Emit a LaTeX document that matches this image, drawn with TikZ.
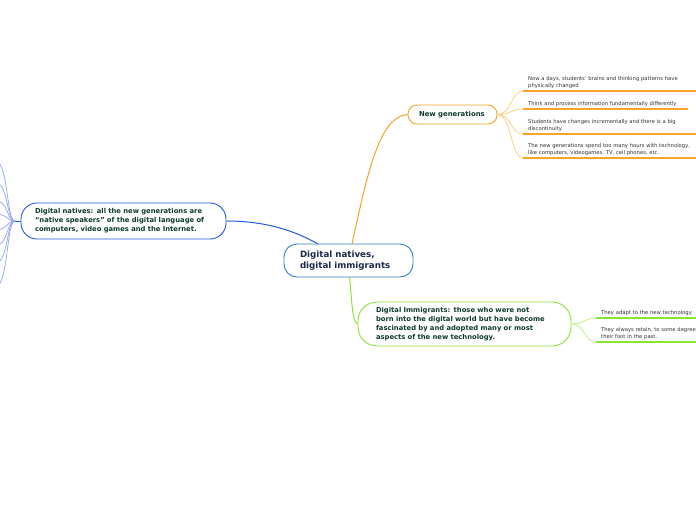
\documentclass[tikz,border=0pt]{standalone}
\usepackage{fontspec}
\setmainfont{DejaVu Sans}
\definecolor{cblue}{HTML}{2F7FCB}
\definecolor{nblue}{HTML}{2558E0}
\definecolor{lblue}{HTML}{8FA6F2}
\definecolor{corange}{HTML}{F7A428}
\definecolor{lorange}{HTML}{FCCB7A}
\definecolor{cgreen}{HTML}{8BE334}
\definecolor{lgreen}{HTML}{BDF07E}
\definecolor{tgreen}{HTML}{0E3B2E}
\definecolor{tnavy}{HTML}{1B2A4A}
\definecolor{tgray}{HTML}{333333}
\tikzset{
  topic/.style={draw, fill=white, line width=0.9pt, align=left, anchor=center, inner ysep=0pt, text=tgreen, font=\bfseries\fontsize{6.8}{9}\selectfont},
  leaf/.style={anchor=south west, align=left, inner xsep=5pt, inner ysep=2.5pt, text=tgray, font=\fontsize{5.25}{7.2}\selectfont},
  ul/.style={line width=1.8pt},
  conn/.style={line width=0.7pt}
}
\begin{document}
\begin{tikzpicture}[x=1pt,y=-1pt]
\useasboundingbox (0,0) rectangle (696,520);
\clip (0,0) rectangle (696,520);
\fill[white] (0,0) rectangle (696,520);

% main nodes
\node[topic, draw=cblue, text=tnavy, rounded corners=13pt, minimum height=33pt, inner xsep=16pt, text width=97pt, font=\bfseries\fontsize{8.7}{11}\selectfont] (c) at (348.5,260.5) {Digital natives,\\digital immigrants};
\node[topic, draw=corange, rounded corners=9pt, minimum height=19pt, inner xsep=11pt, text width=67pt, font=\bfseries\fontsize{6.9}{8}\selectfont] (ng) at (452.5,114.5) {New generations};
\node[topic, draw=nblue, rounded corners=16pt, minimum height=36pt, inner xsep=14pt, text width=177pt] (dn) at (123.5,221) {Digital natives: all the new generations are\\``native speakers'' of the digital language of\\computers, video games and the Internet.};
\node[topic, draw=cgreen, rounded corners=19pt, minimum height=44pt, inner xsep=18pt, text width=177pt] (di) at (464.5,324) {Digital Immigrants: those who were not\\born into the digital world but have become\\fascinated by and adopted many or most\\aspects of the new technology.};

% main connectors
\draw[conn, corange, line width=1pt] (352,244) .. controls (368,170) and (380,116) .. (ng.west);
\draw[conn, nblue, line width=1pt] (318,244) .. controls (290,228) and (260,221) .. (dn.east);
\draw[conn, cgreen, line width=1pt] (349.5,277) .. controls (352,300) and (352,322) .. (di.west);

% New generations leaves
\node[leaf, text width=170pt] (l1) at (523,91) {Now a days, students' brains and thinking patterns have\\physically changed};
\node[leaf, text width=155pt] (l2) at (523,109) {Think and process information fundamentally differently};
\node[leaf, text width=170pt] (l3) at (523,134) {Students have changes incrementally and there is a big\\discontinuity};
\node[leaf, text width=170pt] (l4) at (523,158) {The new generations spend too many hours with technology,\\like computers, videogames, TV, cell phones, etc.};
\foreach \n in {l1,l2,l3,l4}{
  \draw[ul, corange] (\n.south west) -- (\n.south east);
  \draw[conn, lorange] (ng.east) .. controls +(14,0) and +(-12,0) .. (\n.south west);
}

% Digital immigrants leaves
\node[leaf, text width=170pt] (m1) at (596,318) {They adapt to the new technology};
\node[leaf, text width=170pt] (m2) at (596,342) {They always retain, to some degree,\\their foot in the past.};
\foreach \n in {m1,m2}{
  \draw[ul, cgreen] (\n.south west) -- (\n.south east);
  \draw[conn, lgreen] (di.east) .. controls +(14,0) and +(-12,0) .. (\n.south west);
}

% Digital natives: branches off the left edge
\coordinate (hub) at (15,221);
\draw[conn, nblue, line width=1pt] (dn.west) -- (hub);
\foreach \yy in {160,182,200,214,230,246,264,288}{
  \draw[conn, lblue] (hub) .. controls (6,221) and (9,\yy) .. (-6,\yy);
}
\end{tikzpicture}
\end{document}
